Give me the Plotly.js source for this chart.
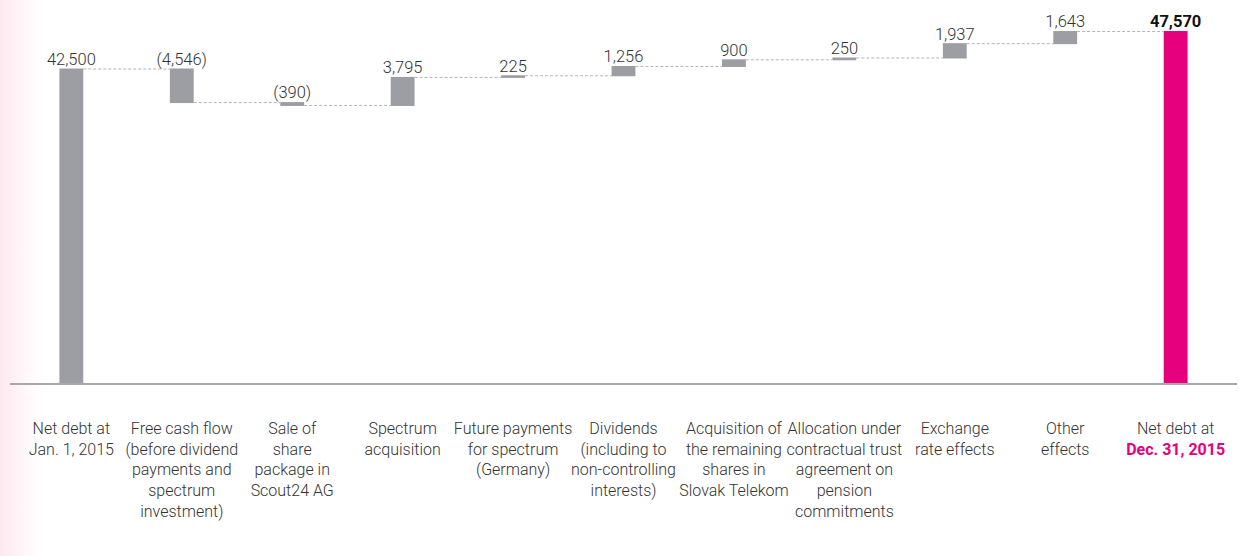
<!DOCTYPE html>
<html>
<head>
<meta charset="utf-8">
<script src="https://cdn.plot.ly/plotly-3.0.1.min.js"></script>
<style>
  html, body { margin: 0; padding: 0; }
  body { width: 1239px; height: 556px; background: linear-gradient(to right, #fde8f0 0px, #fff4f8 20px, #ffffff 40px); }
  #chart { width: 1239px; height: 556px; }
</style>
</head>
<body>
<div id="chart"></div>
<script>
// Categories (tick labels)
const categories = [
  "Net debt at<br>Jan. 1, 2015",
  "Free cash flow<br>(before dividend<br>payments and<br>spectrum<br>investment)",
  "Sale of<br>share<br>package in<br>Scout24 AG",
  "Spectrum<br>acquisition",
  "Future payments<br>for spectrum<br>(Germany)",
  "Dividends<br>(including to<br>non-controlling<br>interests)",
  "Acquisition of<br>the remaining<br>shares in<br>Slovak Telekom",
  "Allocation under<br>contractual trust<br>agreement on<br>pension<br>commitments",
  "Exchange<br>rate effects",
  "Other<br>effects",
  "Net debt at<br><span style=\"color:#e6007e\"><b>Dec. 31, 2015</b></span>"
];
// Values (millions of €): start, changes, end total
const values = [42500, -4546, -390, 3795, 225, 1256, 900, 250, 1937, 1643, 47570];
const measures = ["relative", "relative", "relative", "relative", "relative", "relative",
                  "relative", "relative", "relative", "relative", "total"];
// Value labels shown above bars
const valueLabels = ["42,500", "(4,546)", "(390)", "3,795", "225", "1,256", "900", "250",
                     "1,937", "1,643", "<b>47,570</b>"];

// Top of each bar (for label placement), derived from the values
const tops = [];
let run = 0;
for (let i = 0; i < values.length; i++) {
  if (measures[i] === "total") { tops.push(run); }
  else { const start = run; run += values[i]; tops.push(Math.max(start, run)); }
}

const gray = "#9d9ea3";
const magenta = "#e6007e";
const font = "Roboto, 'Liberation Sans', Arial, sans-serif";

const waterfall = {
  type: "waterfall",
  x: categories,
  y: values,
  measure: measures,
  increasing: { marker: { color: gray, line: { width: 0 } } },
  decreasing: { marker: { color: gray, line: { width: 0 } } },
  totals: { marker: { color: magenta, line: { width: 0 } } },
  connector: { mode: "between", line: { color: "#b4b4b4", width: 1, dash: "3px,2px" } },
  hoverinfo: "skip",
  textinfo: "none"
};

const labels = {
  type: "scatter",
  mode: "text",
  x: categories,
  y: tops,
  text: valueLabels,
  textposition: "top center",
  textfont: { family: font, size: 16.5, weight: 300, color: valueLabels.map((t, i) => i === valueLabels.length - 1 ? "#111" : "#333") },
  hoverinfo: "skip",
  cliponaxis: false
};

const layout = {
  width: 1239,
  height: 556,
  margin: { l: 10, r: 2, t: 20, b: 173 },
  paper_bgcolor: "rgba(0,0,0,0)",
  plot_bgcolor: "rgba(0,0,0,0)",
  showlegend: false,
  waterfallgap: 0.784,
  font: { family: font, size: 16, color: "#333" },
  xaxis: {
    type: "category",
    showline: true,
    linecolor: "#a8a8a8",
    linewidth: 1.5,
    showgrid: false,
    zeroline: false,
    ticks: "outside",
    ticklen: 30,
    tickcolor: "rgba(0,0,0,0)",
    tickangle: 0,
    tickfont: { family: font, size: 16, weight: 300, color: "#333" },
    fixedrange: true
  },
  yaxis: {
    range: [0, 49130],
    visible: false,
    showgrid: false,
    zeroline: false,
    fixedrange: true
  }
};

Plotly.newPlot("chart", [waterfall, labels], layout, { displayModeBar: false, staticPlot: true });
</script>
</body>
</html>
